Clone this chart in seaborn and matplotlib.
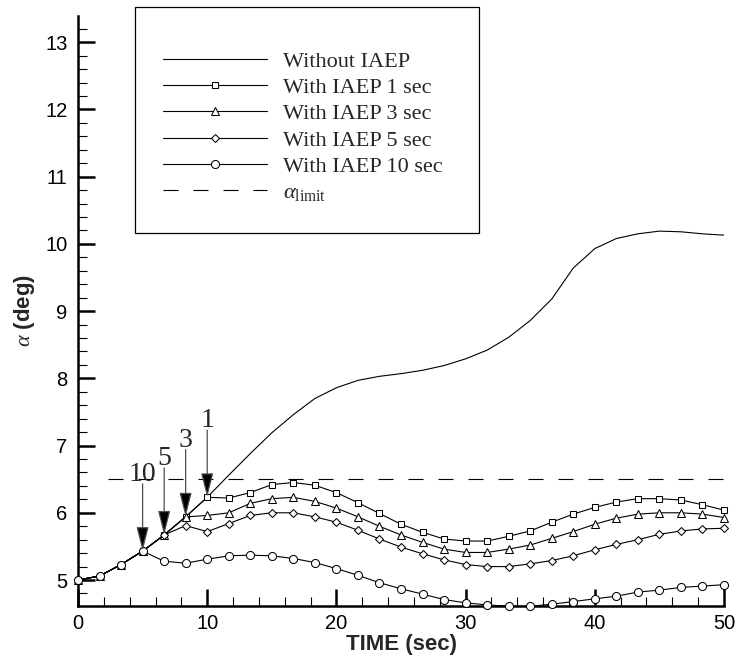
import matplotlib
matplotlib.use("Agg")
import matplotlib.pyplot as plt
from matplotlib.patches import Rectangle
from matplotlib.ticker import MultipleLocator
import pandas as pd
import seaborn as sns

# Sample times (sec)
time_s = [0.0, 1.67, 3.33, 5.0, 6.67, 8.33, 10.0, 11.67, 13.33, 15.0, 16.67,
          18.33, 20.0, 21.67, 23.33, 25.0, 26.67, 28.33, 30.0, 31.67, 33.33,
          35.0, 36.67, 38.33, 40.0, 41.67, 43.33, 45.0, 46.67, 48.33, 50.0]

# Angle of attack (deg); all runs share the first part of the history
alpha_common = [5.0, 5.06, 5.23, 5.43, 5.67, 5.94, 6.23]

alpha_without = alpha_common + [6.56, 6.88, 7.19, 7.46, 7.70, 7.86, 7.97, 8.03,
                                8.07, 8.12, 8.19, 8.29, 8.42, 8.61, 8.86, 9.18,
                                9.64, 9.93, 10.08, 10.15, 10.19, 10.18, 10.15, 10.13]
alpha_iaep_1 = alpha_common + [6.22, 6.30, 6.42, 6.45, 6.41, 6.30, 6.15, 5.99,
                               5.83, 5.71, 5.61, 5.58, 5.58, 5.65, 5.73, 5.86,
                               5.98, 6.08, 6.16, 6.21, 6.21, 6.19, 6.12, 6.04]
alpha_iaep_3 = alpha_common[:6] + [5.96, 6.00, 6.14, 6.21, 6.23, 6.17, 6.07, 5.94,
                                   5.80, 5.67, 5.56, 5.46, 5.41, 5.41, 5.46, 5.52,
                                   5.62, 5.72, 5.83, 5.92, 5.98, 6.00, 6.00, 5.98, 5.93]
alpha_iaep_5 = alpha_common[:5] + [5.81, 5.72, 5.84, 5.96, 6.00, 6.00, 5.94, 5.86,
                                   5.74, 5.61, 5.49, 5.39, 5.30, 5.23, 5.20, 5.20,
                                   5.24, 5.29, 5.36, 5.45, 5.53, 5.60, 5.68, 5.73,
                                   5.76, 5.77]
alpha_iaep_10 = alpha_common[:4] + [5.28, 5.25, 5.31, 5.36, 5.37, 5.36, 5.32, 5.26,
                                    5.17, 5.07, 4.96, 4.87, 4.79, 4.71, 4.66, 4.63,
                                    4.61, 4.61, 4.64, 4.68, 4.72, 4.76, 4.82, 4.85,
                                    4.89, 4.91, 4.93]

# Angle-of-attack limit and the span it is drawn over
alpha_limit = 6.5
limit_span = [2.3, 50.0]

# IAEP activation: label, activation time, alpha at activation
iaep_labels = ["10", "5", "3", "1"]
iaep_times = [5.0, 6.67, 8.33, 10.0]
iaep_alpha = [5.43, 5.67, 5.94, 6.23]

series_labels = ["Without IAEP", "With IAEP 1 sec", "With IAEP 3 sec",
                 "With IAEP 5 sec", "With IAEP 10 sec"]
series_values = [alpha_without, alpha_iaep_1, alpha_iaep_3, alpha_iaep_5, alpha_iaep_10]
series_markers = [None, "s", "^", "D", "o"]
series_msize = [0, 4.5, 5.3, 4.0, 5.8]

df = pd.DataFrame({
    "time": time_s * len(series_labels),
    "alpha": [v for vals in series_values for v in vals],
    "case": [lab for lab in series_labels for _ in time_s],
})

sns.set_theme(style="ticks")
plt.rcParams["font.family"] = ["Liberation Sans", "DejaVu Sans"]
plt.rcParams["mathtext.fontset"] = "custom"
plt.rcParams["mathtext.rm"] = "Liberation Serif"
plt.rcParams["mathtext.it"] = "Liberation Serif:italic"
plt.rcParams["mathtext.bf"] = "Liberation Serif:bold"

fig = plt.figure(figsize=(7.38, 6.61), dpi=100)
ax = fig.add_axes([78 / 738, 55.3 / 661, 646 / 738, 589.7 / 661])

for i, (lab, mk, ms) in enumerate(zip(series_labels, series_markers, series_msize)):
    sub = df[df["case"] == lab]
    kw = dict(color="black", linewidth=0.8, label=lab, ax=ax,
              estimator=None, sort=False, zorder=3 + i)
    if mk is not None:
        kw.update(marker=mk, markersize=ms, markerfacecolor="white",
                  markeredgecolor="black", markeredgewidth=0.75, clip_on=False)
    sns.lineplot(data=sub, x="time", y="alpha", **kw)

ax.plot(limit_span, [alpha_limit, alpha_limit], color="black", linewidth=0.8,
        linestyle=(0, (13.5, 13.5)), label=r"$\alpha_{\mathrm{limit}}$", zorder=2)

# Arrows marking when IAEP becomes active
for lab, t, a in zip(iaep_labels, iaep_times, iaep_alpha):
    ax.annotate("", xy=(t, a), xytext=(t, a + 1.0),
                arrowprops=dict(arrowstyle="-|>,head_length=15,head_width=3.8",
                                mutation_scale=1, fc="black", ec="0.3", lw=0.9,
                                shrinkA=0, shrinkB=0), zorder=10)
    ax.text(t, a + 1.04, lab, ha="center", va="baseline",
            family="Liberation Serif", fontsize=20, zorder=10)

ax.set_xlim(0, 50)
ax.set_ylim(4.618, 13.39)
ax.xaxis.set_major_locator(MultipleLocator(10))
ax.xaxis.set_minor_locator(MultipleLocator(2))
ax.yaxis.set_major_locator(MultipleLocator(1))
ax.yaxis.set_minor_locator(MultipleLocator(0.2))
ax.tick_params(which="major", direction="in", length=12, width=1.8,
               labelsize=14.5, color="black", labelcolor="black")
ax.tick_params(axis="y", which="major", pad=7.5)
ax.tick_params(axis="x", which="major", pad=6)
ax.tick_params(which="minor", direction="in", length=6.5, width=0.8, color="black")
ax.set_yticks(range(5, 14))

for side in ["top", "right"]:
    ax.spines[side].set_visible(False)
for side in ["left", "bottom"]:
    ax.spines[side].set_linewidth(1.8)
    ax.spines[side].set_color("black")

ax.set_xlabel("TIME (sec)", fontsize=16, fontweight="bold", labelpad=1)
ax.set_ylabel(r"$\alpha$ (deg)", fontsize=16, fontweight="bold", labelpad=6)

leg = ax.legend(loc="upper left", bbox_to_anchor=(163 / 738, 1 - 51 / 661),
                bbox_transform=fig.transFigure, frameon=False, borderpad=0,
                borderaxespad=0, handlelength=4.7, handletextpad=0.72,
                labelspacing=0.26, prop={"family": "Liberation Serif", "size": 16})
leg.set_zorder(20)
fig.patches.append(Rectangle((135 / 738, 1 - 233 / 661), 344 / 738, 226 / 661,
                             transform=fig.transFigure, fill=False,
                             edgecolor="black", linewidth=0.9))

fig.savefig("out.png", dpi=100, facecolor="white")
